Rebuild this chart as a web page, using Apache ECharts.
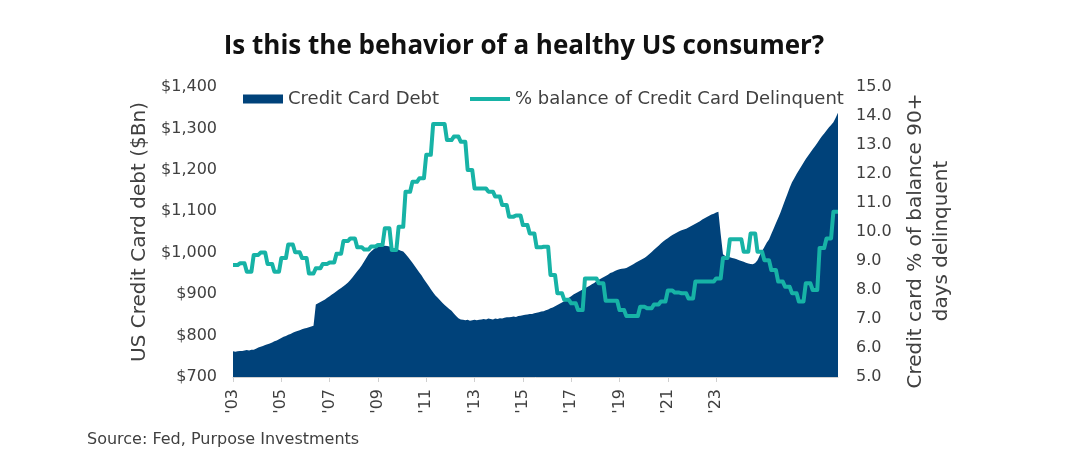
<!DOCTYPE html>
<html>
<head>
<meta charset="utf-8">
<script src="https://cdn.jsdelivr.net/npm/echarts@6/dist/echarts.min.js"></script>
<style>
  html, body { margin: 0; padding: 0; background: #ffffff; }
  #chart { width: 1073px; height: 470px; }
</style>
</head>
<body>
<div id="chart"></div>
<script>
// ---- DATA ----
const startYear = 2003;
const monthCount = 264; // Jan 2003 .. Dec 2024 (monthly categories)
const tickLabels = ["'03", "'05", "'07", "'09", "'11", "'13", "'15", "'17", "'19", "'21", "'23"];
const tickEvery = 21; // months between labelled ticks on the category axis

// US credit card (revolving) debt, $Bn, monthly
const debtBn = [
  762, 761, 762, 763, 763, 764, 765, 764, 766, 766, 768, 771,
  773, 775, 777, 779, 781, 783, 786, 788, 791, 794, 797, 799,
  802, 804, 807, 809, 811, 813, 815, 817, 818, 820, 822, 824,
  875, 878, 881, 884, 887, 891, 895, 899, 903, 907, 911, 915,
  919, 923, 928, 934, 941, 948, 955, 962, 970, 979, 988, 997,
  1003, 1008, 1012, 1014, 1015, 1016, 1017, 1016, 1015, 1013, 1011, 1009,
  1007, 1005, 1003, 997, 990, 983, 976, 968, 960, 952, 945, 936,
  928, 920, 912, 904, 897, 891, 885, 879, 874, 869, 864, 860,
  853, 847, 842, 839, 838, 837, 838, 836, 837, 838, 837, 838,
  839, 840, 839, 841, 840, 839, 841, 840, 842, 841, 843, 844,
  844, 845, 846, 845, 847, 848, 849, 850, 851, 852, 852, 854,
  855, 856, 858, 859, 861, 863, 866, 868, 871, 874, 877, 880,
  883, 887, 891, 895, 899, 902, 905, 908, 911, 914, 917, 920,
  924, 927, 931, 935, 938, 941, 944, 947, 951, 953, 956, 958,
  960, 961, 962, 963, 966, 969, 972, 976, 979, 982, 985, 988,
  992, 997, 1002, 1007, 1012, 1017, 1022, 1027, 1031, 1035, 1039, 1043,
  1046, 1049, 1052, 1054, 1056, 1058, 1061, 1064, 1067, 1070, 1073, 1076,
  1080, 1083, 1086, 1089, 1092, 1094, 1097, 1099, 1045, 996, 992, 990,
  989, 987, 986, 984, 982, 980, 978, 976, 974, 973, 972, 975,
  982, 994, 1004, 1014, 1024, 1032, 1045, 1058, 1071, 1084, 1097, 1112,
  1127, 1142, 1157, 1170, 1180, 1190, 1199, 1208, 1217, 1226, 1234, 1242,
  1250, 1257, 1265, 1273, 1281, 1288, 1295, 1302, 1308, 1315, 1326, 1338
];

// % of credit card balance 90+ days delinquent, quarterly (Q1 2003 .. Q4 2024)
const delinqPct = [
  8.86, 8.92, 8.63, 9.21, 9.29, 8.90, 8.63, 9.10, 9.57, 9.30, 9.10, 8.57,
  8.75, 8.90, 8.95, 9.25, 9.69, 9.78, 9.47, 9.40, 9.50, 9.55, 10.13, 9.38,
  10.18, 11.39, 11.73, 11.85, 12.66, 13.72, 13.72, 13.17, 13.29, 13.11, 12.14, 11.50,
  11.50, 11.39, 11.22, 10.93, 10.53, 10.57, 10.24, 9.95, 9.47, 9.49, 8.52, 7.89,
  7.66, 7.54, 7.31, 8.40, 8.40, 8.23, 7.63, 7.63, 7.31, 7.10, 7.10, 7.42,
  7.37, 7.50, 7.60, 7.98, 7.91, 7.89, 7.71, 8.29, 8.29, 8.29, 8.40, 9.10,
  9.75, 9.75, 9.32, 9.95, 9.32, 9.03, 8.69, 8.29, 8.11, 7.89, 7.60, 8.23,
  8.00, 9.45, 9.78, 10.70
];

// ---- BUILD ----
const categories = [];
for (let i = 0; i < monthCount; i++) {
  const y = startYear + Math.floor(i / 12);
  const m = (i % 12) + 1;
  categories.push(y + '-' + (m < 10 ? '0' + m : m));
}
// each quarterly reading holds for the months of its quarter
const delinqData = [];
delinqPct.forEach((v, q) => {
  delinqData.push([3 * q, v]);
  delinqData.push([Math.min(3 * q + 2, monthCount - 1), v]);
});

const navy = '#00427a';
const teal = '#17b3a6';
const txt = '#404040';
const font = 'DejaVu Sans';

const isTick = (idx) => idx % tickEvery === 0 && idx / tickEvery < tickLabels.length;

const chart = echarts.init(document.getElementById('chart'), null, { renderer: 'canvas' });
chart.setOption({
  backgroundColor: '#ffffff',
  animation: false,
  textStyle: { fontFamily: font },
  graphic: [{
    type: 'text',
    x: 524,
    y: 47,
    style: {
      text: 'Is this the behavior of a healthy US consumer?',
      fontFamily: 'Open Sans', fontWeight: 'bold', fontSize: 26, fill: '#111111',
      align: 'center', verticalAlign: 'middle', textAlign: 'center', textVerticalAlign: 'middle'
    }
  }, {
    type: 'text',
    left: 87,
    top: 432,
    style: { text: 'Source: Fed, Purpose Investments', fontFamily: font, fontSize: 16, fill: txt }
  }],
  legend: [{
    data: ['Credit Card Debt'],
    left: 238, top: 85,
    icon: 'rect', itemWidth: 40, itemHeight: 9, itemGap: 6,
    textStyle: { fontFamily: font, fontSize: 18, color: txt }
  }, {
    data: ['% balance of Credit Card Delinquent'],
    left: 465, top: 85,
    icon: 'rect', itemWidth: 40, itemHeight: 4, itemGap: 6,
    textStyle: { fontFamily: font, fontSize: 18, color: txt }
  }],
  grid: { left: 233, right: 235, top: 87, bottom: 93, containLabel: false },
  xAxis: {
    type: 'category',
    data: categories,
    boundaryGap: false,
    axisLine: { lineStyle: { color: '#d0d0d0', width: 1 } },
    axisTick: { interval: (idx) => isTick(idx), length: 5, lineStyle: { color: '#d0d0d0' } },
    axisLabel: {
      interval: (idx) => isTick(idx),
      rotate: 90,
      margin: 12,
      fontFamily: font, fontSize: 16, color: txt,
      formatter: (val, idx) => tickLabels[idx / tickEvery] || ''
    }
  },
  yAxis: [{
    type: 'value',
    min: 700, max: 1400, interval: 100,
    name: 'US Credit Card debt ($Bn)',
    nameLocation: 'middle',
    nameGap: 80,
    nameRotate: 90,
    nameTextStyle: { fontFamily: font, fontSize: 20, color: txt },
    axisLine: { show: false }, axisTick: { show: false }, splitLine: { show: false },
    axisLabel: {
      margin: 16, fontFamily: font, fontSize: 16, color: txt,
      formatter: (v) => '$' + v.toLocaleString('en-US')
    }
  }, {
    type: 'value',
    min: 5, max: 15, interval: 1,
    position: 'right',
    name: 'Credit card % of balance 90+\ndays delinquent',
    nameLocation: 'middle',
    nameGap: 64,
    nameRotate: 90,
    nameTextStyle: { fontFamily: font, fontSize: 20, color: txt, lineHeight: 26, padding: [0, 18, 0, 0] },
    axisLine: { show: false }, axisTick: { show: false }, splitLine: { show: false },
    axisLabel: {
      margin: 18, fontFamily: font, fontSize: 16, color: txt,
      formatter: (v) => v.toFixed(1)
    }
  }],
  series: [{
    name: 'Credit Card Debt',
    type: 'line',
    yAxisIndex: 0,
    data: debtBn,
    showSymbol: false,
    symbol: 'none',
    color: navy,
    lineStyle: { width: 0, color: navy },
    areaStyle: { color: navy, opacity: 1 },
    z: 2
  }, {
    name: '% balance of Credit Card Delinquent',
    type: 'line',
    yAxisIndex: 1,
    data: delinqData,
    showSymbol: false,
    symbol: 'none',
    color: teal,
    lineStyle: { width: 4, color: teal, join: 'round' },
    z: 3
  }]
});
</script>
</body>
</html>
